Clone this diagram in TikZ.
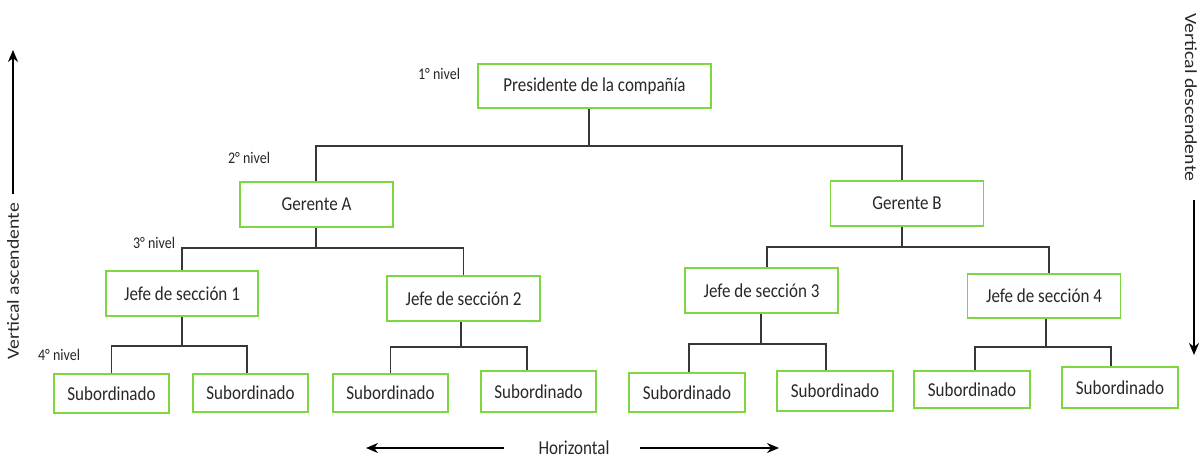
\documentclass[tikz,border=0pt]{standalone}
\usepackage{fontspec}
\setmainfont{Carlito}
\usetikzlibrary{arrows.meta}
\definecolor{boxgreen}{RGB}{125,215,65}
\definecolor{conngray}{RGB}{55,55,55}
\definecolor{txtgray}{RGB}{40,40,40}
\newcommand\vst[1]{\scalebox{1}[1.16]{#1}}
\newcommand\hst[1]{\scalebox{1.16}[1]{#1}}
\tikzset{
  box/.style={draw=boxgreen, line width=1.7pt, fill=white, inner sep=0pt,
    text=txtgray, font=\fontsize{17}{20}\selectfont},
  bigbox/.style={box, minimum width=153pt, minimum height=45pt},
  subbox/.style={box, minimum width=115pt, minimum height=39pt},
  conn/.style={draw=conngray, line width=1.7pt},
  lvl/.style={text=black!85, font=\fontsize{14}{16}\selectfont, inner sep=0pt},
  bigarrow/.style={draw=black, line width=2.8pt, -{Stealth[length=12pt,width=10pt]}},
  axis/.style={text=txtgray, font=\fontsize{17}{20}\selectfont, inner sep=0pt}
}
\begin{document}
\begin{tikzpicture}[x=1pt,y=-1pt]
\useasboundingbox[fill=white] (0,0) rectangle (1200,460);

% boxes
\node[box, minimum width=233pt, minimum height=44pt] (pres) at (594.5,86) {\vst{Presidente de la compañía}};
\node[bigbox] (gA) at (316.5,204.5) {\vst{Gerente A}};
\node[bigbox] (gB) at (907,203.5) {\vst{Gerente B}};
\node[bigbox, minimum width=152pt] (j1) at (182,293.5) {\vst{Jefe de sección 1}};
\node[bigbox] (j2) at (463.5,298.5) {\vst{Jefe de sección 2}};
\node[bigbox] (j3) at (761.5,290.5) {\vst{Jefe de sección 3}};
\node[bigbox, minimum height=44pt] (j4) at (1044,296) {\vst{Jefe de sección 4}};
\node[subbox] (s1) at (111.5,393.5) {\vst{Subordinado}};
\node[subbox, minimum height=38pt] (s2) at (250.5,393) {\vst{Subordinado}};
\node[subbox, minimum height=38pt] (s3) at (390.5,393) {\vst{Subordinado}};
\node[subbox, minimum height=41pt] (s4) at (538.5,391.5) {\vst{Subordinado}};
\node[subbox, minimum width=116pt] (s5) at (687,392.5) {\vst{Subordinado}};
\node[subbox, minimum width=116pt, minimum height=40pt] (s6) at (835,391) {\vst{Subordinado}};
\node[subbox, minimum width=116pt, minimum height=37pt] (s7) at (972,389.5) {\vst{Subordinado}};
\node[subbox, minimum width=116pt, minimum height=41pt] (s8) at (1120,387.5) {\vst{Subordinado}};

% bus points
\coordinate (b0) at (589,146);
\coordinate (bA) at (316,248);
\coordinate (bB) at (902,247);
\coordinate (b1) at (182,346);
\coordinate (b2) at (461,347);
\coordinate (b3) at (761,344);
\coordinate (b4) at (1046,347);

% connectors
\draw[conn] (pres.south -| b0) -- (b0);
\draw[conn] (gA.north -| bA) |- (b0) -| ([xshift=-5pt]gB.north);
\draw[conn] (gA.south -| bA) -- (bA);
\draw[conn] (j1.north) |- (bA) -| (j2.north);
\draw[conn] (gB.south -| bB) -- (bB);
\draw[conn] ([xshift=5.5pt]j3.north) |- (bB) -| ([xshift=5pt]j4.north);
\draw[conn] (j1.south -| b1) -- (b1);
\draw[conn] (s1.north) |- (b1) -| ([xshift=-3.5pt]s2.north);
\draw[conn] (j2.south -| b2) -- (b2);
\draw[conn] (s3.north) |- (b2) -| ([xshift=-11.5pt]s4.north);
\draw[conn] (j3.south -| b3) -- (b3);
\draw[conn] ([xshift=2pt]s5.north) |- (b3) -| ([xshift=-9pt]s6.north);
\draw[conn] (j4.south -| b4) -- (b4);
\draw[conn] ([xshift=3pt]s7.north) |- (b4) -| ([xshift=-9pt]s8.north);

% level labels
\node[lvl] (n1) at (439,74) {\vst{1° nivel}};
\node[lvl] (n2) at (249,158) {\vst{2° nivel}};
\node[lvl] (n3) at (154,243) {\vst{3° nivel}};
\node[lvl] (n4) at (59,355) {\vst{4° nivel}};

% axes
\node[axis, rotate=90] (va) at (13,281.5) {\hst{Vertical ascendente}};
\coordinate (vaTop) at (13,50);
\draw[bigarrow] (13,194) -- (vaTop);
\node[axis, rotate=-90] (vd) at (1191,97.5) {\hst{Vertical descendente}};
\coordinate (vdBot) at (1194,355);
\draw[bigarrow] (1194,200) -- (vdBot);
\node[axis] (hz) at (574,448) {\vst{Horizontal}};
\coordinate (hL) at (366,448);
\coordinate (hR) at (779,448);
\draw[bigarrow] (504,448) -- (hL);
\draw[bigarrow] (640,448) -- (hR);
\end{tikzpicture}
\end{document}
